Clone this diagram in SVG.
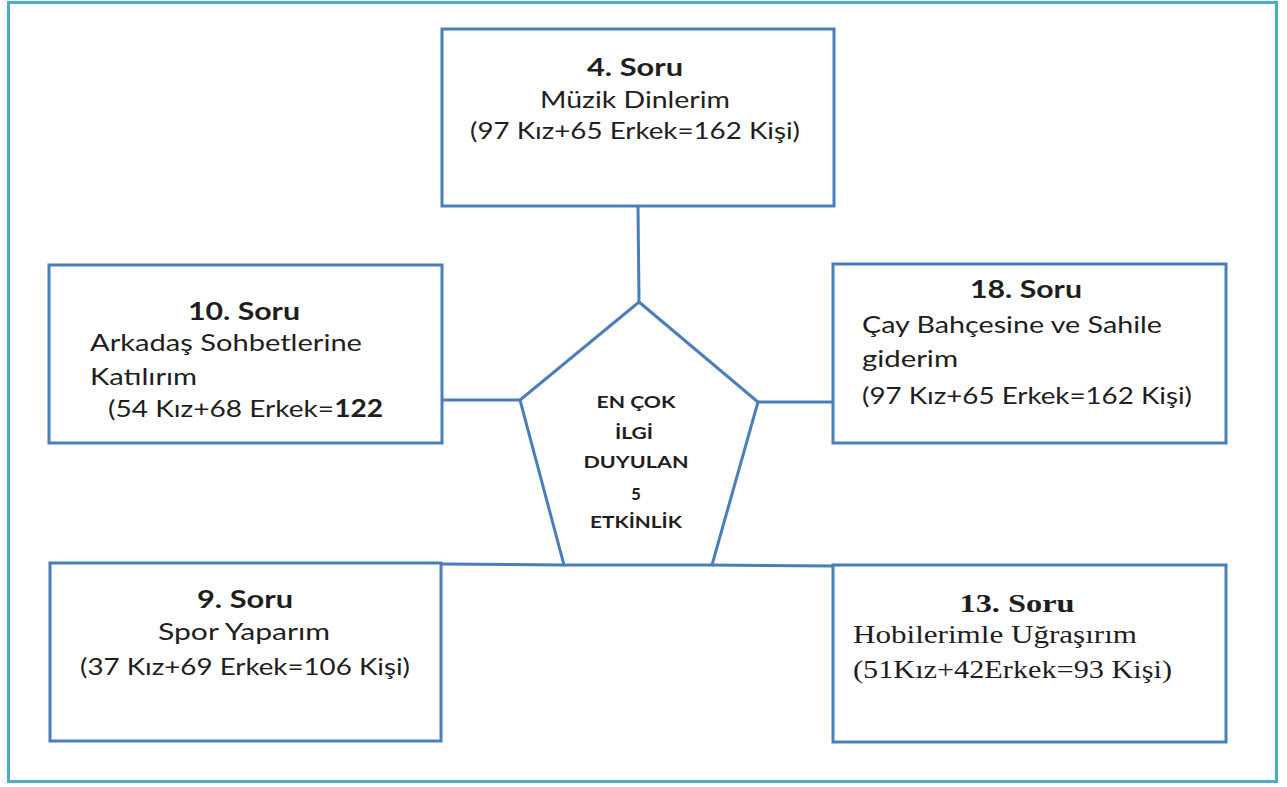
<svg xmlns="http://www.w3.org/2000/svg" width="1287" height="787" viewBox="0 0 1287 787">
<style>
.box{fill:#fff;stroke:#4a7ebb;stroke-width:3}
.ln{fill:none;stroke:#4a7ebb;stroke-width:3}
.t{font-family:Lato,"Open Sans",sans-serif;font-size:24px;fill:#1e1e1e}
.b{font-weight:bold}
.s{font-family:"Liberation Serif",serif;font-size:25px;fill:#1e1e1e}
.p{font-family:Lato,sans-serif;font-size:17px;font-weight:bold;fill:#1e1e1e;text-anchor:middle}
.c{text-anchor:middle}
</style>
<rect x="8.5" y="2.5" width="1268" height="779" fill="#fff" stroke="#4bacc6" stroke-width="3"/>
<g id="connectors">
<line class="ln" x1="638" y1="207" x2="639" y2="302"/>
<line class="ln" x1="442" y1="400" x2="520" y2="400"/>
<line class="ln" x1="758" y1="402" x2="833" y2="402"/>
<line class="ln" x1="441" y1="564" x2="564" y2="565"/>
<line class="ln" x1="712" y1="565" x2="833" y2="566"/>
</g>
<g id="center">
<polygon class="box" points="639,302 758,402 712,565 564,565 520,400"/>
<text class="p" x="636" y="408" textLength="79" lengthAdjust="spacingAndGlyphs">EN ÇOK</text>
<text class="p" x="634" y="439" textLength="38" lengthAdjust="spacingAndGlyphs">İLGİ</text>
<text class="p" x="636" y="468" textLength="105" lengthAdjust="spacingAndGlyphs">DUYULAN</text>
<text class="p" x="636" y="500">5</text>
<text class="p" x="636" y="528" textLength="92" lengthAdjust="spacingAndGlyphs">ETKİNLİK</text>
</g>
<g id="q4">
<rect class="box" x="442" y="29" width="392" height="177"/>
<text class="t b c" x="635" y="76" textLength="96" lengthAdjust="spacingAndGlyphs">4. Soru</text>
<text class="t c" x="635" y="108" textLength="190" lengthAdjust="spacingAndGlyphs">Müzik Dinlerim</text>
<text class="t c" x="635" y="139" textLength="330" lengthAdjust="spacingAndGlyphs">(97 Kız+65 Erkek=162 Kişi)</text>
</g>
<g id="q10">
<rect class="box" x="49" y="265" width="393" height="178"/>
<text class="t b c" x="244" y="320" textLength="112" lengthAdjust="spacingAndGlyphs">10. Soru</text>
<text class="t" x="90" y="351" textLength="272" lengthAdjust="spacingAndGlyphs">Arkadaş Sohbetlerine</text>
<text class="t" x="90" y="385" textLength="107" lengthAdjust="spacingAndGlyphs">Katılırım</text>
<text class="t" x="108" y="417" textLength="275" lengthAdjust="spacingAndGlyphs">(54 Kız+68 Erkek=<tspan class="b">122</tspan></text>
</g>
<g id="q18">
<rect class="box" x="833" y="264" width="393" height="179"/>
<text class="t b c" x="1026" y="298" textLength="112" lengthAdjust="spacingAndGlyphs">18. Soru</text>
<text class="t" x="862" y="333" textLength="300" lengthAdjust="spacingAndGlyphs">Çay Bahçesine ve Sahile</text>
<text class="t" x="862" y="367" textLength="96" lengthAdjust="spacingAndGlyphs">giderim</text>
<text class="t" x="862" y="404" textLength="330" lengthAdjust="spacingAndGlyphs">(97 Kız+65 Erkek=162 Kişi)</text>
</g>
<g id="q9">
<rect class="box" x="50" y="563" width="391" height="178"/>
<text class="t b c" x="245" y="608" textLength="96" lengthAdjust="spacingAndGlyphs">9. Soru</text>
<text class="t c" x="244" y="640" textLength="172" lengthAdjust="spacingAndGlyphs">Spor Yaparım</text>
<text class="t c" x="245" y="675" textLength="330" lengthAdjust="spacingAndGlyphs">(37 Kız+69 Erkek=106 Kişi)</text>
</g>
<g id="q13">
<rect class="box" x="833" y="565" width="393" height="177"/>
<text class="s b c" x="1017" y="612" textLength="115" lengthAdjust="spacingAndGlyphs">13. Soru</text>
<text class="s" x="853" y="643" textLength="284" lengthAdjust="spacingAndGlyphs">Hobilerimle Uğraşırım</text>
<text class="s" x="853" y="678" textLength="319" lengthAdjust="spacingAndGlyphs">(51Kız+42Erkek=93 Kişi)</text>
</g>
</svg>
